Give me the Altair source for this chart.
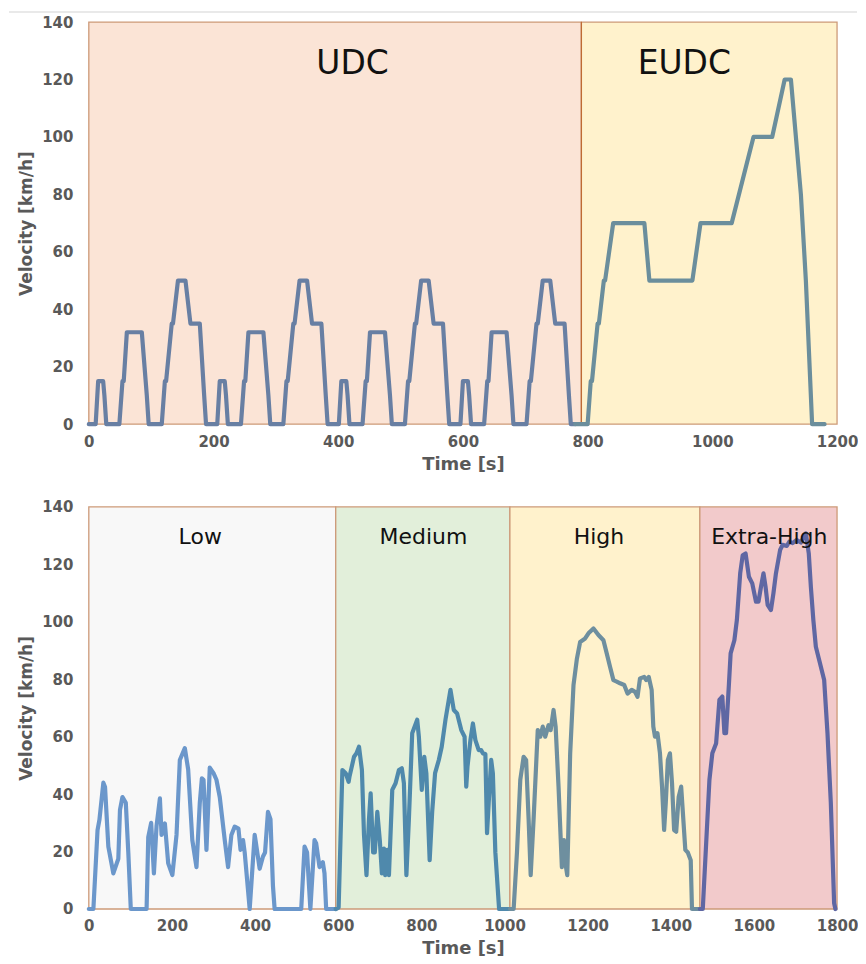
import altair as alt
import pandas as pd

# ---------------- NEDC (top panel) ----------------
# one ECE-15 urban cycle (time s, velocity km/h); the UDC repeats it 4 times
ece15_t = [0, 11, 15, 23, 25, 28, 49, 54, 56, 61, 85, 93, 96, 117, 122, 124, 133, 135,
           143, 155, 163, 176, 178, 185, 188, 195]
ece15_v = [0, 0, 15, 15, 10, 0, 0, 15, 15, 32, 32, 10, 0, 0, 15, 15, 35, 35,
           50, 50, 35, 35, 35, 10, 0, 0]
udc_offsets = [0, 195, 390, 585]

eudc_t = [780, 800, 805, 807, 816, 818, 826, 828, 841, 891, 899, 968, 981, 1031, 1066,
          1096, 1116, 1126, 1142, 1150, 1160, 1180]
eudc_v = [0, 0, 15, 15, 35, 35, 50, 50, 70, 70, 50, 50, 70, 70, 100,
          100, 120, 120, 80, 50, 0, 0]

nedc_regions = ["UDC", "EUDC"]
nedc_start = [0, 790]
nedc_end = [790, 1200]
nedc_fill = ["#FBE4D6", "#FFF2CC"]
nedc_line = ["#687FA3", "#6B8E9C"]
nedc_label_t = [423, 955]
nedc_label_v = [125.5, 125.5]
nedc_ticks = [0, 200, 400, 600, 800, 1000, 1200]

# ---------------- WLTC (bottom panel) ----------------
low_t = [0, 11, 21, 25.5, 35, 39, 47, 59, 71, 75, 81, 89, 95, 101, 139, 143, 150, 156.6,
         163, 171, 175, 183, 191, 201, 211, 219, 231, 239, 249, 259, 267, 272, 276, 283,
         291, 300, 307, 315, 327, 335, 343, 351, 360, 365, 371, 375, 387, 399, 401, 411,
         419, 424, 431, 437, 443, 447, 511, 519, 525, 533, 543, 547, 555, 563, 567, 571, 594]
low_v = [0, 0, 27.5, 31, 44, 42.5, 21.7, 12.4, 17.5, 34.5, 39, 37, 19.7, 0, 0, 25, 30, 12.4,
         29, 38.5, 25.8, 29.8, 15.9, 11.8, 25.8, 51.9, 56, 48.6, 24, 14.6, 37, 45.5, 45, 20.6,
         49.2, 47.3, 45, 39, 24, 14.6, 25.8, 28.7, 28, 20.6, 24, 19.7, 0, 25.8, 24, 14,
         18.3, 19.7, 33.8, 31.3, 8, 0, 0, 21.7, 19.7, 0, 24, 22.8, 14.6, 16.3, 12.4, 0, 0]

med_t = [594, 601, 610, 618, 625, 627, 638, 644, 650, 657, 662, 668, 674, 678, 684, 688,
         694, 700, 705, 710, 713, 718, 722, 730, 738, 746, 753, 758, 764, 770, 778, 790,
         794, 801, 807, 812, 820, 826, 833, 842, 849, 858, 870, 878, 886, 896, 904, 908,
         911, 918, 924, 930, 938, 944, 948, 954, 958, 962, 968, 972, 978, 987, 1013]
med_v = [0, 0.5, 48.4, 47.3, 44.3, 46, 53, 54.2, 56.5, 48.4, 25.8, 11.8, 31.3, 40.3, 19.7, 19.7,
         33.8, 24, 12.4, 21, 11.8, 20.6, 11.8, 41.5, 43.8, 48.4, 49, 43.8, 11.8, 31.3, 61.2, 65.9,
         60, 41.5, 53, 47.3, 17, 33.8, 47.3, 51.9, 56.5, 65.9, 76.3, 69.3, 68.1, 62.3, 60, 42.6,
         49.6, 58.8, 64.6, 58.8, 55.3, 55.3, 54.2, 54, 26.4, 37, 51.9, 47.3, 19.7, 0, 0]

high_t = [1013, 1022, 1030, 1038, 1046, 1052, 1058, 1063, 1070, 1080, 1086, 1092, 1098, 1106,
          1111, 1118, 1123, 1130, 1138, 1143, 1148, 1151, 1158, 1166, 1174, 1182, 1194, 1202,
          1214, 1226, 1238, 1246, 1254, 1262, 1270, 1278, 1288, 1296, 1306, 1314, 1320, 1326,
          1336, 1341, 1347, 1354, 1358, 1362, 1368, 1374, 1379, 1384, 1388, 1393, 1398, 1403,
          1408, 1413, 1419, 1425, 1429, 1435, 1441, 1448, 1451, 1470]
high_v = [0, 0, 19.7, 45, 53, 51.9, 31.3, 11.8, 31.3, 62.3, 60, 63.5, 60, 64,
          62.3, 69.3, 63.5, 42.6, 14.6, 24, 14.6, 11.8, 54.2, 78, 87, 93, 94.2, 96,
          97.7, 95.4, 93.6, 89, 84.3, 79.7, 79.2, 78.6, 78, 75, 76.3, 75.6, 73.9, 80.3,
          80.8, 79.7, 80.8, 76.3, 63.5, 60, 61.2, 54.2, 42.6, 27.5, 37, 51.9, 54.2, 43.8,
          27.5, 26.9, 39, 42.6, 33.8, 20.6, 19.7, 17, 0, 0]

xh_t = [1470, 1477, 1493, 1500, 1509, 1517, 1524, 1529, 1533, 1540, 1544, 1553, 1559, 1567,
        1573, 1580, 1588, 1596, 1605, 1611, 1617, 1623, 1628, 1633, 1641, 1647, 1653, 1663,
        1669, 1679, 1685, 1693, 1703, 1713, 1725, 1732, 1737, 1743, 1749, 1757, 1769, 1777,
        1785, 1793, 1796]
xh_v = [0, 0, 45, 54.2, 57.6, 72.8, 74, 61.2, 61.2, 78.6, 89, 93.6, 100.6, 116.9,
        123.2, 123.8, 115.7, 113.4, 107, 107, 112.2, 116.9, 112.2, 105.9, 104.1, 110, 116.9, 125,
        126.8, 126.4, 127.9, 127.4, 128.5, 127.6, 130.8, 123.8, 112.2, 100.6, 91.3, 86.7, 79.7, 61.2,
        37, 2, 0]

wltc_regions = ["Low", "Medium", "High", "Extra-High"]
wltc_start = [0, 594, 1013, 1470]
wltc_end = [594, 1013, 1470, 1800]
wltc_fill = ["#F8F8F8", "#E2EFDA", "#FFF2CC", "#F2CACB"]
wltc_line = ["#6B97CB", "#4F89AC", "#6E8F9F", "#5F67A3"]
wltc_label_t = [268, 805, 1227, 1637]
wltc_label_v = [129.5, 129.5, 129.5, 129.5]
wltc_ticks = [0, 200, 400, 600, 800, 1000, 1200, 1400, 1600, 1800]

y_ticks = [0, 20, 40, 60, 80, 100, 120, 140]

# ---------------- build tables ----------------
udc_t, udc_v = [], []
for off in udc_offsets:
    udc_t += [t + off for t in ece15_t[:-1]]
    udc_v += ece15_v[:-1]
udc_t.append(780)
udc_v.append(0)

nedc_df = pd.DataFrame({
    "t": udc_t + eudc_t,
    "v": udc_v + eudc_v,
    "seg": ["UDC"] * len(udc_t) + ["EUDC"] * len(eudc_t),
})
wltc_df = pd.DataFrame({
    "t": low_t + med_t + high_t + xh_t,
    "v": low_v + med_v + high_v + xh_v,
    "seg": (["Low"] * len(low_t) + ["Medium"] * len(med_t)
            + ["High"] * len(high_t) + ["Extra-High"] * len(xh_t)),
})

W, H = 750, 403
GRAY = "#595959"
BORDER = "#CD9A78"


def panel(line_df, regions, starts, ends, fills, lines, lab_t, lab_v, ticks, xmax,
          lab_size, top_rule=False, divider=None):
    reg_df = pd.DataFrame({"region": regions, "start": starts, "end": ends})
    lab_df = pd.DataFrame({"region": regions, "t": lab_t, "v": lab_v})
    xs = alt.Scale(domain=[0, xmax], nice=False, zero=True)
    ys = alt.Scale(domain=[0, 140], nice=False)
    xaxis = alt.Axis(values=ticks, format="d", title="Time [s]", grid=False, domain=False,
                     ticks=False,
                     labelFont="DejaVu Sans", labelFontWeight="bold", labelFontSize=15,
                     labelColor=GRAY, labelPadding=10, labelFlush=False,
                     titleFont="DejaVu Sans", titleFontWeight="bold", titleFontSize=18,
                     titleColor=GRAY, titlePadding=6)
    yaxis = alt.Axis(values=y_ticks, format="d", title="Velocity [km/h]", grid=False,
                     domain=False,
                     ticks=False, labelFont="DejaVu Sans", labelFontWeight="bold",
                     labelFontSize=15, labelColor=GRAY, labelPadding=16,
                     titleFont="DejaVu Sans", titleFontWeight="bold", titleFontSize=17,
                     titleColor=GRAY, titlePadding=6)

    rects = alt.Chart(reg_df).mark_rect(stroke=BORDER, strokeWidth=1.3).encode(
        x=alt.X("start:Q", scale=xs, axis=xaxis),
        x2="end:Q",
        y=alt.value(0),
        y2=alt.value(H),
        fill=alt.Fill("region:N", scale=alt.Scale(domain=regions, range=fills), legend=None),
    )
    line = alt.Chart(line_df).mark_line(strokeWidth=4.2, strokeJoin="round",
                                        strokeCap="round").encode(
        x=alt.X("t:Q", scale=xs, axis=xaxis),
        y=alt.Y("v:Q", scale=ys, axis=yaxis),
        stroke=alt.Stroke("seg:N", scale=alt.Scale(domain=regions, range=lines), legend=None),
        order="t:Q",
    )
    text = alt.Chart(lab_df).mark_text(font="DejaVu Sans", fontSize=lab_size, color="#111111",
                                       align="center", baseline="middle").encode(
        x=alt.X("t:Q", scale=xs), y=alt.Y("v:Q", scale=ys), text="region:N")
    layers = [rects]
    if divider is not None:
        layers.append(alt.Chart(pd.DataFrame({"t": [divider]})).mark_rule(
            color="#BF6B35", strokeWidth=1.2).encode(
            x=alt.X("t:Q", scale=xs), y=alt.value(0), y2=alt.value(H)))
    layers += [line, text]
    if top_rule:
        layers.append(alt.Chart(pd.DataFrame({"k": [0]})).mark_rule(
            color="#E2E2E2", strokeWidth=1.5).encode(
            x=alt.value(-80), x2=alt.value(770), y=alt.value(-10)))
    return alt.layer(*layers).properties(width=W, height=H)


top = panel(nedc_df, nedc_regions, nedc_start, nedc_end, nedc_fill, nedc_line,
            nedc_label_t, nedc_label_v, nedc_ticks, 1200, 33, top_rule=True,
            divider=nedc_start[1])
bottom = panel(wltc_df, wltc_regions, wltc_start, wltc_end, wltc_fill, wltc_line,
               wltc_label_t, wltc_label_v, wltc_ticks, 1800, 22)

chart = alt.vconcat(top, bottom, spacing=27).properties(
    padding={"left": 0, "top": 2, "right": 0, "bottom": 0}
).configure_view(stroke=None).resolve_scale(fill="independent", stroke="independent",
                                            x="independent")

chart.save("out.html", embed_options={"renderer": "svg", "actions": False})
